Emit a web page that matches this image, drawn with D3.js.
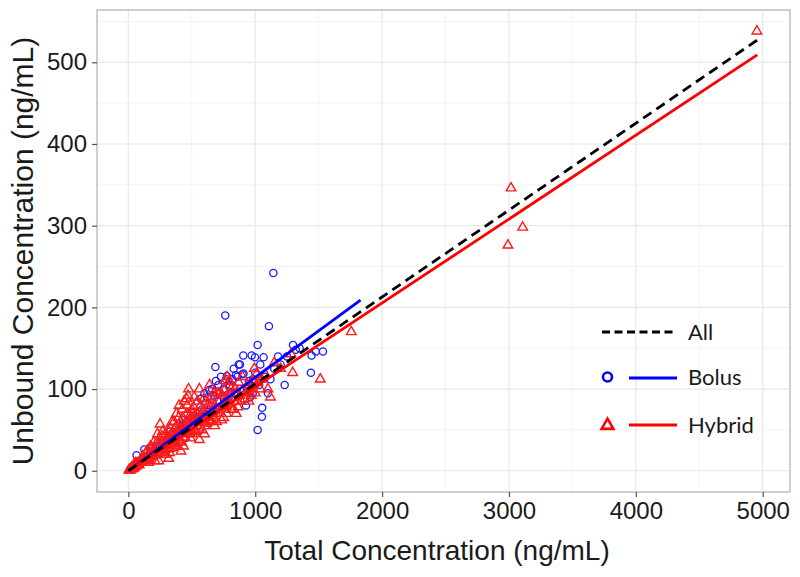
<!DOCTYPE html>
<html><head><meta charset="utf-8">
<script src="https://cdn.jsdelivr.net/npm/d3@7"></script>
<style>body{margin:0;background:#fff;}svg{display:block;}</style>
</head><body>
<svg id="chart" width="800" height="577"></svg>
<script>
// ---- data ----
const xTicks = [0, 1000, 2000, 3000, 4000, 5000];
const yTicks = [0, 100, 200, 300, 400, 500];
const xMinor = [500, 1500, 2500, 3500, 4500];
const yMinor = [50, 150, 250, 350, 450, 550];

const bolusX = [15,30,45,65,80,95,110,126,140,165,168,185,200,220,250,280,300,320,350,380,400,420,440,460,480,500,520,540,560,580,599,610,638,650,678,686,690,700,720,740,750,764,770,790,800,820,840,860,880,900,906,927,950,972,980,998,1000,1019,1019,1030,1053,1055,1066,1080,1108,1143,1150,1200,1232,1298,1320,1439,1444,1478,1534,1250,1100,960,880,830,730,660,60,90,135,240,360,470,530,620,
  430,450,510,550,570,590,625,670,710,760,777,810,848,870,908,940,982,1040,1120,1180,1350,260,290,330,370,410];
const bolusY = [2,4,7,19,10,13,12,26,15,13,27,24,20,30,28,35,30,40,45,42,50,55,48,60,52,65,58,70,62,75,95,68,99,80,92,127,110,85,95,75,100,190,112,90,105,112,95,115,100,118,141,80,110,141,95,139,120,154,50,105,66,77,139,115,177,242,125,130,105,154,148,120,141,146,146,140,95,90,130,125,115,100,5,9,17,22,38,45,60,72,
  62,40,72,55,88,60,90,75,105,85,116,95,117,130,119,100,112,130,112,140,150,38,25,48,36,44];

const hybridX = [5,10,15,20,25,30,35,40,45,50,55,60,70,80,90,100,12,28,42,65,75,85,95,110,120,130,140,150,
  160,170,180,190,200,210,220,230,240,250,255,260,270,280,290,300,310,318,200,230,270,290,150,175,240,
  330,340,350,360,370,380,390,400,410,415,420,430,440,450,459,460,470,475,480,490,500,350,380,400,420,440,490,360,470,330,
  510,520,530,540,550,560,570,580,590,600,610,620,630,640,650,660,670,680,690,700,520,560,600,640,680,580,
  710,720,730,740,750,760,770,780,790,800,810,820,830,850,860,870,880,900,920,940,960,980,1000,750,850,950,780,900,
  1020,1050,1080,1100,1150,1200,1282,1295,1513,1757,1120,796,993,2992,3016,3108,4954,
  265,285,305,325,345,365,385,405,425,445,465,485,505,525,545,565,585,605,625,645,
  310,325,345,365,385,395,405,425,435,455,465,485,495,505,515,535,545,555,575,595,615,635,655,675,695,
  715,735,755,775,795,815,845,865,890,930,970,1010,1040,230,210,185,160,140,115,60,45];
const hybridY = [1,1,2,2,3,3,4,4,5,6,5,7,8,8,10,11,0.5,2,3,6,9,7,12,10,14,12,16,15,
  18,13,22,17,25,19,27,21,30,57,24,35,28,32,26,40,31,15,35,45,48,20,25,30,12,
  38,45,33,50,42,55,40,47,60,24,52,65,45,55,88,70,50,100,62,58,75,28,70,80,35,85,40,60,92,52,
  55,65,48,70,60,38,80,62,72,55,85,68,75,60,90,72,65,80,70,95,90,100,45,105,55,50,
  75,85,70,92,80,110,78,88,95,82,100,90,75,95,85,108,92,98,88,105,100,110,95,65,70,85,115,115,
  108,112,118,100,132,125,143,120,112,170,90,109,125,276,346,298,538,
  42,22,36,27,44,31,48,36,50,41,57,46,60,50,63,55,68,58,66,62,
  50,22,60,35,30,65,38,75,30,48,80,68,50,45,78,62,85,52,70,88,58,82,62,95,60,
  95,62,98,70,110,75,100,78,85,95,92,118,100,36,12,28,10,22,18,10,8];

// fitted lines: endpoints
const fitNames = ["All", "Bolus", "Hybrid"];
const fitX0 = [0, 0, 0];
const fitY0 = [0, 0, 0];
const fitX1 = [4955, 1830, 4957];
const fitY1 = [527, 209, 509];

const legendLabels = ["All", "Bolus", "Hybrid"];
const xTitle = "Total Concentration (ng/mL)";
const yTitle = "Unbound Concentration (ng/mL)";

// ---- layout ----
const svg = d3.select("#chart");
const L = 97, R = 790, T = 10, B = 492;
const x = d3.scaleLinear().domain([-247, 5215]).range([L, R]);
const y = d3.scaleLinear().domain([-26, 564]).range([B, T]);

const blue = "#1a1aff", red = "#ff1a1a";
const sans = "Liberation Sans, Arial, sans-serif";

// grid
const g = svg.append("g");
g.selectAll(".xmin").data(xMinor).enter().append("line")
  .attr("x1", d => x(d)).attr("x2", d => x(d)).attr("y1", T).attr("y2", B)
  .attr("stroke", "#f4f4f4").attr("stroke-width", 1);
g.selectAll(".ymin").data(yMinor).enter().append("line")
  .attr("y1", d => y(d)).attr("y2", d => y(d)).attr("x1", L).attr("x2", R)
  .attr("stroke", "#f4f4f4").attr("stroke-width", 1);
g.selectAll(".xmaj").data(xTicks).enter().append("line")
  .attr("x1", d => x(d)).attr("x2", d => x(d)).attr("y1", T).attr("y2", B)
  .attr("stroke", "#e8e8e8").attr("stroke-width", 1.2);
g.selectAll(".ymaj").data(yTicks).enter().append("line")
  .attr("y1", d => y(d)).attr("y2", d => y(d)).attr("x1", L).attr("x2", R)
  .attr("stroke", "#e8e8e8").attr("stroke-width", 1.2);

// points
const bolus = bolusX.map((v, i) => [v, bolusY[i]]);
const hybrid = hybridX.map((v, i) => [v, hybridY[i]]);

svg.append("g").selectAll("circle").data(bolus).enter().append("circle")
  .attr("cx", d => x(d[0])).attr("cy", d => y(d[1])).attr("r", 3.6)
  .attr("fill", "none").attr("stroke", blue).attr("stroke-width", 1.3);

const tri = d3.symbol().type(d3.symbolTriangle).size(40);
svg.append("g").selectAll("path").data(hybrid).enter().append("path")
  .attr("d", tri)
  .attr("transform", d => `translate(${x(d[0])},${y(d[1])})`)
  .attr("fill", "none").attr("stroke", red).attr("stroke-width", 1.4);

// fit lines
const fitColors = ["#000", "#0000ff", "#ff0000"];
const fitDash = ["10,6", null, null];
const lineOrder = [1, 2, 0];
lineOrder.forEach(i => {
  svg.append("line")
    .attr("x1", x(fitX0[i])).attr("y1", y(fitY0[i]))
    .attr("x2", x(fitX1[i])).attr("y2", y(fitY1[i]))
    .attr("stroke", fitColors[i]).attr("stroke-width", 2.8)
    .attr("stroke-dasharray", fitDash[i]);
});

// panel border
svg.append("rect").attr("x", L).attr("y", T).attr("width", R - L).attr("height", B - T)
  .attr("fill", "none").attr("stroke", "#b0b0b0").attr("stroke-width", 1.2);

// axes
const xAxis = d3.axisBottom(x).tickValues(xTicks).tickSize(5).tickPadding(5).tickFormat(d3.format("d"));
const yAxis = d3.axisLeft(y).tickValues(yTicks).tickSize(5).tickPadding(5).tickFormat(d3.format("d"));
const gx = svg.append("g").attr("transform", `translate(0,${B})`).call(xAxis);
const gy = svg.append("g").attr("transform", `translate(${L},0)`).call(yAxis);
[gx, gy].forEach(a => {
  a.select(".domain").remove();
  a.selectAll(".tick line").attr("stroke", "#555").attr("stroke-width", 1.2);
  a.selectAll(".tick text").attr("font-family", sans)
    .attr("font-size", 24).attr("fill", "#1a1a1a");
});

// titles
svg.append("text").attr("x", 437).attr("y", 560).attr("text-anchor", "middle")
  .attr("font-family", sans).attr("font-size", 28).attr("fill", "#1a1a1a")
  .text(xTitle);
svg.append("text").attr("transform", `translate(33,${(T + B) / 2}) rotate(-90)`).attr("text-anchor", "middle")
  .attr("font-family", sans).attr("font-size", 30).attr("fill", "#1a1a1a")
  .text(yTitle);

// legend
const lg = svg.append("g");
const legY = [332, 377, 425];
lg.append("line").attr("x1", 602).attr("x2", 677).attr("y1", legY[0]).attr("y2", legY[0])
  .attr("stroke", "#000").attr("stroke-width", 3).attr("stroke-dasharray", "8,4.5");
lg.append("circle").attr("cx", 607.5).attr("cy", legY[1]).attr("r", 4.5)
  .attr("fill", "none").attr("stroke", "#0000ff").attr("stroke-width", 2.6);
lg.append("line").attr("x1", 629).attr("x2", 677).attr("y1", legY[1] + 1).attr("y2", legY[1] + 1)
  .attr("stroke", "#0000ff").attr("stroke-width", 3);
lg.append("path").attr("d", d3.symbol().type(d3.symbolTriangle).size(60))
  .attr("transform", `translate(607.5,${legY[2] + 0.5})`)
  .attr("fill", "none").attr("stroke", "#ff0000").attr("stroke-width", 2.6);
lg.append("line").attr("x1", 629).attr("x2", 677).attr("y1", legY[2]).attr("y2", legY[2])
  .attr("stroke", "#ff0000").attr("stroke-width", 3);
lg.selectAll("text").data(legendLabels).enter().append("text")
  .attr("x", 688).attr("y", (d, i) => legY[i]).attr("dy", "0.35em")
  .attr("font-family", "Lato, Open Sans, sans-serif").attr("font-size", 22).attr("fill", "#1a1a1a")
  .text(d => d);
</script>
</body></html>
